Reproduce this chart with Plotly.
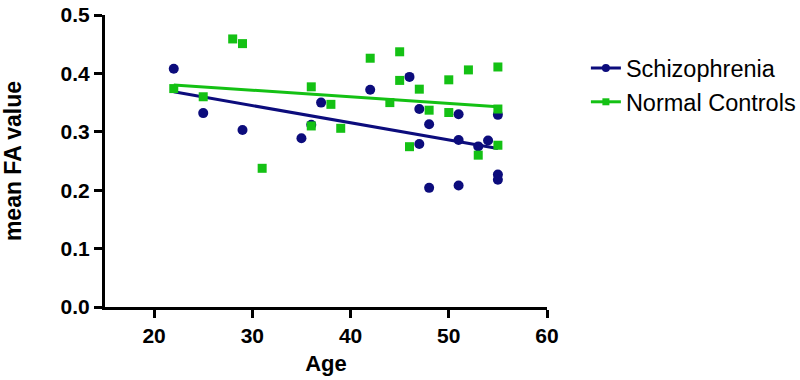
import numpy as np
import plotly.graph_objects as go

# Schizophrenia group
schiz_age = [22, 25, 29, 35, 36, 37, 42, 46, 47, 47, 48, 48, 51, 51, 51, 53, 54, 55, 55, 55]
schiz_fa = [0.408, 0.332, 0.303, 0.289, 0.312, 0.350, 0.372, 0.394, 0.339, 0.279,
            0.313, 0.204, 0.330, 0.286, 0.208, 0.275, 0.285, 0.329, 0.227, 0.218]

# Normal controls group
ctrl_age = [22, 25, 28, 29, 31, 36, 36, 38, 39, 42, 44, 45, 45, 46, 47, 48, 50, 50, 52, 53, 55, 55, 55]
ctrl_fa = [0.374, 0.360, 0.459, 0.451, 0.2375, 0.377, 0.310, 0.347, 0.306, 0.426, 0.350,
           0.437, 0.388, 0.2745, 0.373, 0.337, 0.389, 0.333, 0.406, 0.260, 0.411, 0.339, 0.277]

x_ticks = [20, 30, 40, 50, 60]
y_ticks = [0.0, 0.1, 0.2, 0.3, 0.4, 0.5]

NAVY = "#0c0c7c"
GREEN = "#14c114"
FONT = "Liberation Sans, Arial, sans-serif"


def fit_line(xs, ys):
    m, b = np.polyfit(xs, ys, 1)
    xr = [min(xs), max(xs)]
    return xr, [m * v + b for v in xr]


fig = go.Figure()

sx, sy = fit_line(schiz_age, schiz_fa)
cx, cy = fit_line(ctrl_age, ctrl_fa)

fig.add_trace(go.Scatter(x=sx, y=sy, mode="lines", line=dict(color=NAVY, width=3),
                         showlegend=False, hoverinfo="skip"))
fig.add_trace(go.Scatter(x=cx, y=cy, mode="lines", line=dict(color=GREEN, width=3),
                         showlegend=False, hoverinfo="skip"))
fig.add_trace(go.Scatter(x=schiz_age, y=schiz_fa, mode="markers",
                         marker=dict(symbol="circle", size=10, color=NAVY),
                         showlegend=False, name="Schizophrenia"))
fig.add_trace(go.Scatter(x=ctrl_age, y=ctrl_fa, mode="markers",
                         marker=dict(symbol="square", size=9, color=GREEN),
                         showlegend=False, name="Normal Controls"))

# legend entries
fig.add_trace(go.Scatter(x=[None], y=[None], mode="lines+markers", name="Schizophrenia",
                         line=dict(color=NAVY, width=3),
                         marker=dict(symbol="circle", size=8, color=NAVY), legend="legend"))
fig.add_trace(go.Scatter(x=[None], y=[None], mode="lines+markers", name="Normal Controls",
                         line=dict(color=GREEN, width=3),
                         marker=dict(symbol="square", size=7, color=GREEN), legend="legend2"))

axis_common = dict(
    showline=True, linecolor="black", linewidth=3,
    ticks="outside", ticklen=8, tickwidth=3, tickcolor="black",
    showgrid=False, zeroline=False, automargin=False, ticklabeloverflow="allow",
    tickfont=dict(family=FONT, size=21, color="black", weight="bold"),
)

legend_common = dict(xanchor="left", yanchor="middle", itemwidth=30,
                     font=dict(family=FONT, size=23.5, color="black"), bgcolor="rgba(0,0,0,0)")

fig.update_layout(
    width=800, height=380,
    margin=dict(l=105, r=253, t=15, b=73, autoexpand=False),
    paper_bgcolor="white", plot_bgcolor="white",
    xaxis=dict(range=[15, 60], tickvals=x_ticks, ticktext=[str(v) for v in x_ticks],
               title=dict(text="Age", font=dict(family=FONT, size=22, color="black", weight="bold"),
                          standoff=10),
               **axis_common),
    yaxis=dict(range=[0, 0.5], tickvals=y_ticks, ticktext=[f"{v:.1f}" for v in y_ticks],
               title=dict(text="mean FA value", font=dict(family=FONT, size=23, color="black", weight="bold"),
                          standoff=40),
               **axis_common),
    legend=dict(x=1.088, y=0.818, **legend_common),
    legend2=dict(x=1.088, y=0.702, **legend_common),
)

fig.write_html("out.html",
               config={"displayModeBar": False},
               post_script="document.body.style.margin='0';document.body.style.overflow='hidden';")
